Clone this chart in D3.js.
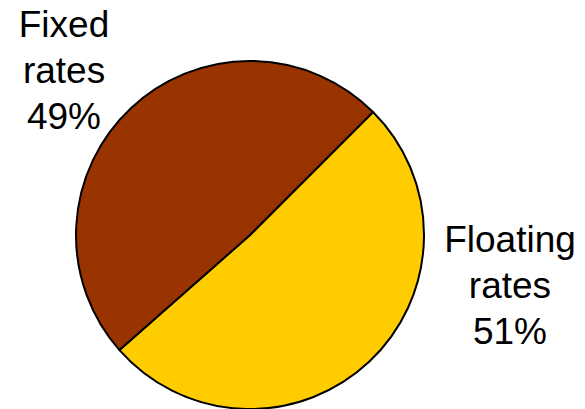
<!DOCTYPE html>
<html>
<head>
<meta charset="utf-8">
<script src="https://cdn.jsdelivr.net/npm/d3@7"></script>
<style>
  body { margin: 0; background: #fff; }
  svg { display: block; }
  .label { font-family: "Liberation Sans", Arial, sans-serif; font-size: 37px; fill: #000; }
</style>
</head>
<body>
<svg id="chart"></svg>
<script>
var categories = ["Floating rates", "Fixed rates"];
var values = [51, 49];
var colors = ["#ffcc00", "#993300"];

var width = 585, height = 409;
var cx = 250, cy = 235, radius = 174;

var svg = d3.select("#chart")
    .attr("width", width)
    .attr("height", height);

// the split starts at roughly 1:30 o'clock and runs clockwise
var pie = d3.pie()
    .sort(null)
    .startAngle(Math.PI / 4)
    .endAngle(Math.PI / 4 + 2 * Math.PI)
    .value(function (d) { return d; });

var arc = d3.arc()
    .innerRadius(0)
    .outerRadius(radius);

var g = svg.append("g")
    .attr("transform", "translate(" + cx + "," + cy + ")");

g.selectAll("path")
    .data(pie(values))
    .enter()
    .append("path")
    .attr("d", arc)
    .attr("fill", function (d, i) { return colors[i]; })
    .attr("stroke", "#000")
    .attr("stroke-width", 2)
    .attr("stroke-linejoin", "round");

// label anchors (baseline of the middle line), offsets from the pie centre
var labelPos = [[260, 63], [-186, -152]];
var lineHeight = 46;

categories.forEach(function (name, i) {
    var lines = name.split(" ").concat([values[i] + "%"]);
    var t = g.append("text")
        .attr("class", "label")
        .attr("text-anchor", "middle")
        .attr("x", labelPos[i][0])
        .attr("y", labelPos[i][1] - lineHeight);
    lines.forEach(function (s, j) {
        t.append("tspan")
            .attr("x", labelPos[i][0])
            .attr("dy", j == 0 ? 0 : lineHeight)
            .text(s);
    });
});
</script>
</body>
</html>
